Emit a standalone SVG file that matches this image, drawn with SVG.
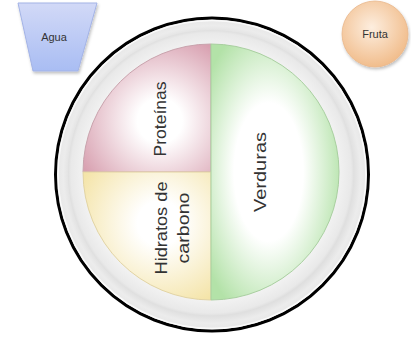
<svg xmlns="http://www.w3.org/2000/svg" width="411" height="339" viewBox="0 0 411 339">
<defs>
<linearGradient id="gBlue" x1="0" y1="0" x2="0" y2="1">
<stop offset="0" stop-color="#d2d9f7"/><stop offset="1" stop-color="#a9bdf3"/>
</linearGradient>
<radialGradient id="gFruit" cx="0.45" cy="0.4" r="0.6">
<stop offset="0" stop-color="#fdeedf"/><stop offset="1" stop-color="#f1bd8c"/>
</radialGradient>
<radialGradient id="gRim" cx="0.5" cy="0.5" r="0.5">
<stop offset="0.9" stop-color="#dedede"/><stop offset="0.95" stop-color="#ececec"/><stop offset="1" stop-color="#e6e6e6"/>
</radialGradient>
<radialGradient id="gWell" cx="0.5" cy="0.5" r="0.5">
<stop offset="0.88" stop-color="#f3f3f3"/><stop offset="0.98" stop-color="#e9e9e9"/><stop offset="1" stop-color="#dfdfdf"/>
</radialGradient>
<radialGradient id="gPink" cx="0.6" cy="0.6" r="0.7">
<stop offset="0.25" stop-color="#ffffff"/><stop offset="1" stop-color="#d8a0b0"/>
</radialGradient>
<radialGradient id="gYellow" cx="0.6" cy="0.4" r="0.7">
<stop offset="0.25" stop-color="#ffffff"/><stop offset="1" stop-color="#f4e4a8"/>
</radialGradient>
<radialGradient id="gGreen" cx="0.45" cy="0.5" r="0.6">
<stop offset="0.45" stop-color="#ffffff"/><stop offset="1" stop-color="#b3e2a8"/>
</radialGradient>
<filter id="sh" x="-20%" y="-20%" width="140%" height="140%">
<feDropShadow dx="1" dy="2" stdDeviation="1.5" flood-color="#000" flood-opacity="0.25"/>
</filter>
</defs>
<style>
text{font-family:"Liberation Sans",Arial,sans-serif;fill:#333}
.sm{font-size:11px}
.lb{font-size:17px}
</style>
<g id="agua">
<path d="M18,3 L97,3 L78,71 L33,71 Z" fill="url(#gBlue)" stroke="#a3b3e6" stroke-width="1" filter="url(#sh)"/>
<text class="sm" x="54" y="41" text-anchor="middle">Agua</text>
</g>
<g id="fruta">
<circle cx="375" cy="34" r="33" fill="url(#gFruit)" stroke="#eab88c" stroke-width="0.8" filter="url(#sh)"/>
<text class="sm" x="375" y="38" text-anchor="middle">Fruta</text>
</g>
<g id="plato">
<circle cx="212" cy="174.5" r="156.5" fill="url(#gRim)" stroke="#000" stroke-width="3"/>
<circle cx="212" cy="174.5" r="154" fill="none" stroke="#fafafa" stroke-width="1.5"/>
<circle cx="211" cy="173" r="143" fill="url(#gWell)"/>
</g>
<g id="proteinas">
<path d="M211,172 L83,172 A128,128 0 0 1 211,44 Z" fill="url(#gPink)" stroke="#c9a3ad" stroke-width="1"/>
<text class="lb" transform="translate(166,119) rotate(-90)" text-anchor="middle" textLength="75" lengthAdjust="spacingAndGlyphs">Proteínas</text>
</g>
<g id="hidratos">
<path d="M211,172 L211,300 A128,128 0 0 1 83,172 Z" fill="url(#gYellow)" stroke="#e2d4a4" stroke-width="1"/>
<text class="lb" transform="translate(167,228) rotate(-90)" text-anchor="middle" textLength="93" lengthAdjust="spacingAndGlyphs">Hidratos de</text>
<text class="lb" transform="translate(189,228) rotate(-90)" text-anchor="middle" textLength="71" lengthAdjust="spacingAndGlyphs">carbono</text>
</g>
<g id="verduras">
<path d="M211,44 A128,128 0 0 1 211,300 Z" fill="url(#gGreen)" stroke="#a9cfa0" stroke-width="1"/>
<text class="lb" transform="translate(266,172) rotate(-90)" text-anchor="middle" textLength="80" lengthAdjust="spacingAndGlyphs">Verduras</text>
</g>
<g id="connectors"/>
</svg>
